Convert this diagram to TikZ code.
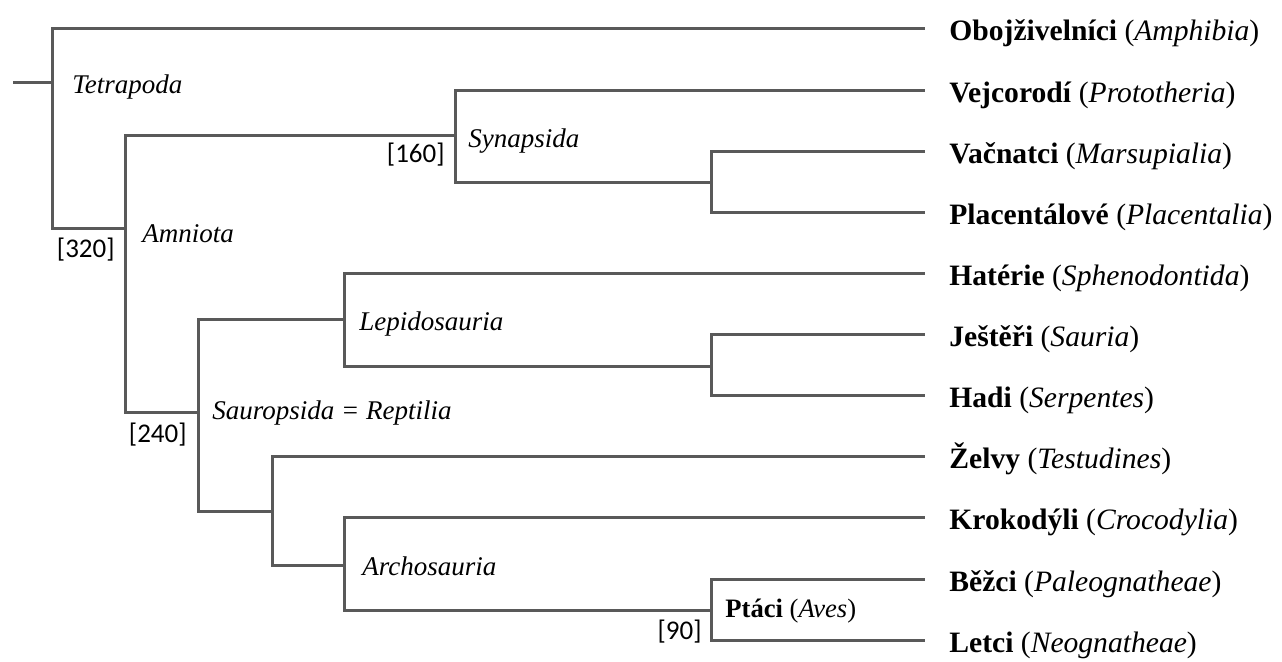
\documentclass[tikz,border=0pt]{standalone}
\usepackage{fontspec}
\setmainfont{Liberation Serif}
\newfontfamily\agefont{Carlito}
\usepackage{tikz}
\usetikzlibrary{positioning}
\tikzset{branch/.style = {draw=black!65, line width=1.5pt, line join=miter}}
\tikzset{leaf/.style = {inner sep=0pt, font=\fontsize{14.8pt}{17pt}\selectfont}}
\tikzset{clade/.style = {inner sep=0pt, font=\fontsize{13.5pt}{16pt}\selectfont\itshape}}
\tikzset{age/.style = {inner sep=0pt, font=\fontsize{13.5pt}{16pt}\selectfont\agefont}}
\tikzset{birds/.style = {inner sep=0pt, font=\fontsize{13.3pt}{16pt}\selectfont}}

\begin{document}
\begin{tikzpicture}[x=0.5pt, y=-0.5pt]
  \useasboundingbox (0,0) rectangle (1282,662);

  % branch points
  \coordinate (root) at (13,83);
  \coordinate (tetra) at (52,83);
  \coordinate (amnio) at (125,229);
  \coordinate (synap) at (455,136);
  \coordinate (mamm) at (711,183);
  \coordinate (sauro) at (198,413);
  \coordinate (lepido) at (344,320);
  \coordinate (squam) at (711,367);
  \coordinate (archelo) at (272,512);
  \coordinate (archo) at (344,566);
  \coordinate (aves) at (711,611);

  % leaves
  \coordinate (amph) at (925,29);
  \coordinate (proto) at (925,91);
  \coordinate (mars) at (925,152);
  \coordinate (plac) at (925,213);
  \coordinate (spheno) at (925,274);
  \coordinate (sauria) at (925,335);
  \coordinate (serp) at (925,396);
  \coordinate (testu) at (925,457);
  \coordinate (croco) at (925,518);
  \coordinate (paleo) at (925,580);
  \coordinate (neo) at (925,641);

  \path[branch] (root) -- (tetra);
  \path[branch] (tetra) |- (amph);
  \path[branch] (tetra) |- (amnio);
  \path[branch] (amnio) |- (synap);
  \path[branch] (amnio) |- (sauro);
  \path[branch] (synap) |- (proto);
  \path[branch] (synap) |- (mamm);
  \path[branch] (mamm) |- (mars);
  \path[branch] (mamm) |- (plac);
  \path[branch] (sauro) |- (lepido);
  \path[branch] (sauro) |- (archelo);
  \path[branch] (lepido) |- (spheno);
  \path[branch] (lepido) |- (squam);
  \path[branch] (squam) |- (sauria);
  \path[branch] (squam) |- (serp);
  \path[branch] (archelo) |- (testu);
  \path[branch] (archelo) |- (archo);
  \path[branch] (archo) |- (croco);
  \path[branch] (archo) |- (aves);
  \path[branch] (aves) |- (paleo);
  \path[branch] (aves) |- (neo);

  % leaf labels
  \node [leaf, base right=12pt of amph, yshift=-5.8pt] (amphT) {\textbf{Obojživelníci} (\textit{Amphibia})};
  \node [leaf, base right=12pt of proto, yshift=-5.8pt] (protoT) {\textbf{Vejcorodí} (\textit{Prototheria})};
  \node [leaf, base right=12pt of mars, yshift=-5.8pt] (marsT) {\textbf{Vačnatci} (\textit{Marsupialia})};
  \node [leaf, base right=12pt of plac, yshift=-5.8pt] (placT) {\textbf{Placentálové} (\textit{Placentalia})};
  \node [leaf, base right=12pt of spheno, yshift=-5.8pt] (sphenoT) {\textbf{Hatérie} (\textit{Sphenodontida})};
  \node [leaf, base right=12pt of sauria, yshift=-5.8pt] (sauriaT) {\textbf{Ještěři} (\textit{Sauria})};
  \node [leaf, base right=12pt of serp, yshift=-5.8pt] (serpT) {\textbf{Hadi} (\textit{Serpentes})};
  \node [leaf, base right=12pt of testu, yshift=-5.8pt] (testuT) {\textbf{Želvy} (\textit{Testudines})};
  \node [leaf, base right=12pt of croco, yshift=-5.8pt] (crocoT) {\textbf{Krokodýli} (\textit{Crocodylia})};
  \node [leaf, base right=12pt of paleo, yshift=-5.8pt] (paleoT) {\textbf{Běžci} (\textit{Paleognatheae})};
  \node [leaf, base right=12pt of neo, yshift=-5.8pt] (neoT) {\textbf{Letci} (\textit{Neognatheae})};

  % clade names
  \node [clade, base right=10pt of tetra, yshift=-5.5pt] (tetraT) {Tetrapoda};
  \node [clade, base right=8.5pt of amnio, yshift=-7pt] (amnioT) {Amniota};
  \node [clade, base right=6.5pt of synap, yshift=-6pt] (synapT) {Synapsida};
  \node [clade, base right=7pt of sauro, yshift=-3.5pt] (sauroT) {Sauropsida = Reptilia};
  \node [clade, base right=7.5pt of lepido, yshift=-5.5pt] (lepidoT) {Lepidosauria};
  \node [clade, base right=9pt of archo, yshift=-5pt] (archoT) {Archosauria};
  \node [birds, base right=7pt of aves, yshift=-3.5pt] (avesT) {\textbf{Ptáci} (\textit{Aves})};

  % ages
  \node [age, base left=5pt of amnio, yshift=-14.5pt] (amnioA) {[320]};
  \node [age, base left=5pt of synap, yshift=-13.5pt] (synapA) {[160]};
  \node [age, base left=5.5pt of sauro, yshift=-15pt] (sauroA) {[240]};
  \node [age, base left=4.5pt of aves, yshift=-14.5pt] (avesA) {[90]};
\end{tikzpicture}
\end{document}
